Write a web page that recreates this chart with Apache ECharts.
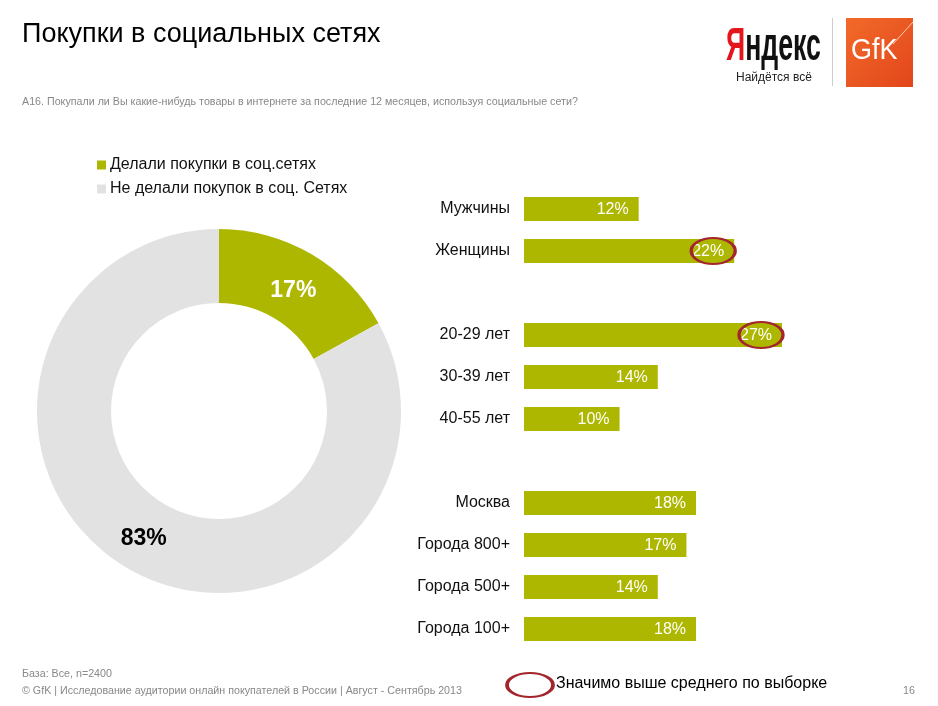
<!DOCTYPE html>
<html><head><meta charset="utf-8">
<script src="https://cdn.jsdelivr.net/npm/echarts@6/dist/echarts.min.js"></script>
<style>html,body{margin:0;padding:0;background:#fff}#c{width:938px;height:706px}</style>
</head><body><div id="c"></div>
<script>
const pieNames = ['Делали покупки в соц.сетях', 'Не делали покупок в соц. Сетях'];
const pieValues = [17, 83];
const barCategories = ['Мужчины', 'Женщины', '', '20-29 лет', '30-39 лет', '40-55 лет', ' ', 'Москва', 'Города 800+', 'Города 500+', 'Города 100+'];
const barValues = [12, 22, null, 27, 14, 10, null, 18, 17, 14, 18];
const significant = ['Женщины', '20-29 лет'];

const GREEN = '#AEB700';
const GREY = '#E2E2E2';
const RED = '#A3262C';
const FONT = 'Liberation Sans, Arial, sans-serif';

const chart = echarts.init(document.getElementById('c'));
const option = {
  backgroundColor: '#fff',
  animation: false,
  textStyle: { fontFamily: FONT },
  legend: {
    orient: 'vertical', left: 92, top: 152, icon: 'rect', itemWidth: 9, itemHeight: 9, itemGap: 8,
    data: pieNames, selectedMode: false,
    textStyle: { fontSize: 16, color: '#111', fontFamily: FONT, padding: [0, 0, 0, -1] }
  },
  grid: { left: 524, top: 188, width: 258, height: 462, containLabel: false },
  xAxis: { type: 'value', min: 0, max: 27, show: false },
  yAxis: {
    type: 'category', inverse: true, data: barCategories,
    axisLine: { show: false }, axisTick: { show: false },
    axisLabel: { fontSize: 16, color: '#111', margin: 14, fontFamily: FONT, padding: [3, 0, 0, 0] }
  },
  series: [
    {
      type: 'pie', radius: [108, 182], center: [219, 411], startAngle: 90, clockwise: true,
      data: pieNames.map((n, i) => ({ name: n, value: pieValues[i], itemStyle: { color: i === 0 ? GREEN : GREY } })),
      label: {
        position: 'inside', fontSize: 23, fontWeight: 'bold', fontFamily: FONT,
        formatter: p => p.value + '%', color: '#000'
      },
      labelLine: { show: false }, emphasis: { disabled: true }, silent: true
    },
    {
      type: 'bar', data: barValues, barCategoryGap: '43%', itemStyle: { color: GREEN },
      label: { show: true, position: 'insideRight', distance: 10, color: '#fff', fontSize: 16, fontFamily: FONT, offset: [0, 1], formatter: p => p.value + '%' },
      emphasis: { disabled: true }, silent: true
    }
  ]
};
option.series[0].data[0].label = { color: '#fff', offset: [-1, 7] };
option.series[0].data[1].label = { color: '#000' };

chart.setOption(option);

const gfx = [
  { type: 'text', left: 22, top: 21, style: { text: 'Покупки в социальных сетях', font: '27px ' + FONT, fill: '#000' } },
  { type: 'text', left: 22, top: 97, style: { text: 'А16. Покупали ли Вы какие-нибудь товары в интернете за последние 12 месяцев, используя социальные сети?', font: '10.7px ' + FONT, fill: '#888' } },
  // Yandex logo
  { type: 'text', x: 726, y: 24, scaleX: 0.58, style: { text: '{r|Я}{b|ндекс}', rich: { r: { fill: '#E3161B', font: 'bold 46px ' + FONT }, b: { fill: '#111', font: 'bold 46px ' + FONT } } } },
  { type: 'text', x: 736, y: 72, style: { text: 'Найдётся всё', font: '12px ' + FONT, fill: '#222' } },
  { type: 'line', shape: { x1: 832.5, y1: 18, x2: 832.5, y2: 86 }, style: { stroke: '#ccc', lineWidth: 1 } },
  { type: 'rect', shape: { x: 846, y: 18, width: 67, height: 69 }, style: { fill: new echarts.graphic.LinearGradient(0, 0, 1, 1, [{ offset: 0, color: '#F26A2A' }, { offset: 1, color: '#E2461B' }]) } },
  { type: 'line', shape: { x1: 893, y1: 44, x2: 913, y2: 22 }, style: { stroke: '#FFD0B0', lineWidth: 1 } },
  { type: 'text', x: 851, y: 36, scaleX: 0.9, style: { text: 'GfK', font: '30px ' + FONT, fill: '#fff' } },
  // footer
  { type: 'text', left: 22, top: 669, style: { text: 'База: Все, n=2400', font: '10.7px ' + FONT, fill: '#888' } },
  { type: 'text', left: 22, top: 686, style: { text: '© GfK | Исследование аудитории онлайн покупателей в России | Август - Сентябрь 2013', font: '10.7px ' + FONT, fill: '#888' } },
  { type: 'text', left: 903, top: 686, style: { text: '16', font: '10.7px ' + FONT, fill: '#888' } },
  { type: 'circle', z: 100, x: 530, y: 685, scaleX: 23 / 12, shape: { cx: 0, cy: 0, r: 12 }, style: { fill: 'none', stroke: RED, lineWidth: 2, strokeNoScale: true } },
  { type: 'text', left: 556, top: 676, style: { text: 'Значимо выше среднего по выборке', font: '16px ' + FONT, fill: '#000' } }
];
significant.forEach(cat => {
  const idx = barCategories.indexOf(cat);
  const p = chart.convertToPixel({ gridIndex: 0 }, [barValues[idx], idx]);
  gfx.push({ type: 'circle', z: 100, x: p[0] - 21, y: p[1], scaleX: 22 / 13, shape: { cx: 0, cy: 0, r: 13 }, style: { fill: 'none', stroke: RED, lineWidth: 2, strokeNoScale: true } });
});
chart.setOption({ graphic: gfx });
</script></body></html>
